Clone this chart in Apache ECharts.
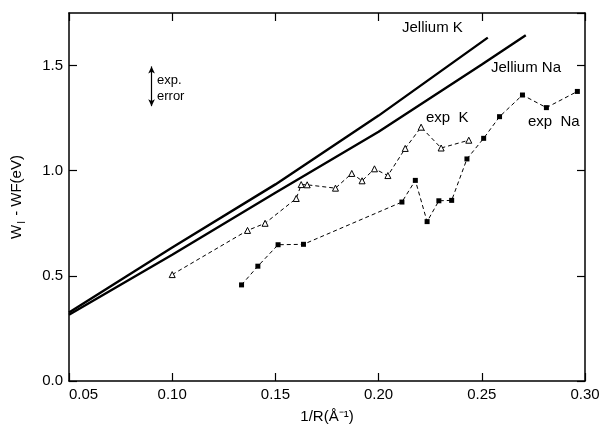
<!DOCTYPE html>
<html>
<head>
<meta charset="utf-8">
<script src="https://cdn.jsdelivr.net/npm/echarts@6/dist/echarts.min.js"></script>
<style>
html,body{margin:0;padding:0;background:#fff;}
#chart{width:606px;height:429px;}
</style>
</head>
<body>
<div id="chart"></div>
<script>
// ---- data ----
const jelliumKX = [0.05, 0.10, 0.15, 0.20, 0.2529];
const jelliumKY = [0.326, 0.635, 0.935, 1.262, 1.633];
const jelliumNaX = [0.05, 0.10, 0.15, 0.20, 0.25, 0.2713];
const jelliumNaY = [0.315, 0.600, 0.895, 1.185, 1.505, 1.644];
const expKX = [0.1000, 0.1365, 0.1450, 0.1601, 0.1625, 0.1654, 0.1791, 0.1870, 0.1920, 0.1980, 0.2045, 0.2129, 0.2206, 0.2303, 0.2437];
const expKY = [0.506, 0.716, 0.750, 0.868, 0.934, 0.933, 0.917, 0.987, 0.952, 1.009, 0.977, 1.106, 1.207, 1.108, 1.145];
const expNaX = [0.1336, 0.1415, 0.1513, 0.1636, 0.2113, 0.2178, 0.2235, 0.2292, 0.2354, 0.2428, 0.2509, 0.2586, 0.2697, 0.2813, 0.2963];
const expNaY = [0.457, 0.546, 0.648, 0.650, 0.851, 0.954, 0.758, 0.857, 0.859, 1.056, 1.154, 1.257, 1.360, 1.300, 1.377];
const errorBarX = 0.090;
const errorBarY = [1.307, 1.496];
const xTicks = {min: 0.05, max: 0.30, interval: 0.05};
const yTicks = {min: 0.0, max: 1.75, interval: 0.5};

const pairs = (xs, ys) => xs.map((x, i) => [x, ys[i]]);
const FONT = 'Liberation Sans';

const chart = echarts.init(document.getElementById('chart'), null, {renderer: 'canvas'});

const axisCommon = {
  type: 'value',
  axisLine: {show: true, onZero: false, lineStyle: {color: '#000', width: 1.5}},
  axisTick: {show: true, inside: true, length: 8, lineStyle: {color: '#000', width: 1.2}},
  splitLine: {show: false}
};

const option = {
  animation: false,
  backgroundColor: '#fff',
  grid: {left: 69, right: 21, top: 13, bottom: 44, containLabel: false},
  xAxis: [
    Object.assign({}, axisCommon, {
      position: 'bottom', min: xTicks.min, max: xTicks.max, interval: xTicks.interval,
      axisLabel: {show: true, color: '#000', fontFamily: FONT, fontSize: 15, margin: 6,
        alignMinLabel: 'left',
        formatter: v => v.toFixed(2)},
      name: '1/R(Å⁻¹)', nameLocation: 'middle', nameGap: 28,
      nameTextStyle: {color: '#000', fontFamily: FONT, fontSize: 15}
    }),
    Object.assign({}, axisCommon, {
      position: 'top', min: xTicks.min, max: xTicks.max, interval: xTicks.interval,
      axisLabel: {show: false}
    })
  ],
  yAxis: [
    Object.assign({}, axisCommon, {
      position: 'left', min: yTicks.min, max: yTicks.max, interval: yTicks.interval,
      axisLabel: {show: true, color: '#000', fontFamily: FONT, fontSize: 15, margin: 6,
        showMaxLabel: false,
        formatter: v => v.toFixed(1)},
      name: '{a|W}{s|I}{a| - WF(eV)}', nameLocation: 'middle', nameGap: 42, nameRotate: 90,
      nameTextStyle: {color: '#000', fontFamily: FONT, fontSize: 15,
        rich: {a: {fontFamily: FONT, fontSize: 15, color: '#000', verticalAlign: 'middle'},
               s: {fontFamily: FONT, fontSize: 10, color: '#000', verticalAlign: 'middle', padding: [10, 1, 0, 1]}}}
    }),
    Object.assign({}, axisCommon, {
      position: 'right', min: yTicks.min, max: yTicks.max, interval: yTicks.interval,
      axisLabel: {show: false}
    })
  ],
  series: [
    {
      name: 'Jellium K', type: 'line', xAxisIndex: 0, yAxisIndex: 0,
      data: pairs(jelliumKX, jelliumKY), showSymbol: false,
      lineStyle: {color: '#000', width: 2.4}
    },
    {
      name: 'Jellium Na', type: 'line', xAxisIndex: 0, yAxisIndex: 0,
      data: pairs(jelliumNaX, jelliumNaY), showSymbol: false,
      lineStyle: {color: '#000', width: 2.4}
    },
    {
      name: 'exp K', type: 'line', xAxisIndex: 0, yAxisIndex: 0,
      data: pairs(expKX, expKY), symbol: 'triangle', symbolSize: 6, showSymbol: true,
      itemStyle: {color: '#fff', borderColor: '#000', borderWidth: 1},
      lineStyle: {color: '#000', width: 1, type: [4, 3]}
    },
    {
      name: 'exp Na', type: 'line', xAxisIndex: 0, yAxisIndex: 0,
      data: pairs(expNaX, expNaY), symbol: 'rect', symbolSize: 5, showSymbol: true,
      itemStyle: {color: '#000'},
      lineStyle: {color: '#000', width: 1, type: [4, 3]}
    },
    {
      name: 'exp error', type: 'line', xAxisIndex: 0, yAxisIndex: 0,
      data: [], silent: true,
      markLine: {
        silent: true, symbol: ['arrow', 'arrow'], symbolSize: [5, 7],
        label: {show: false},
        lineStyle: {color: '#000', width: 1.2, type: 'solid'},
        data: [[{coord: [errorBarX, errorBarY[0]]}, {coord: [errorBarX, errorBarY[1]]}]]
      }
    }
  ],
  graphic: [
    {type: 'text', left: 402, top: 20, style: {text: 'Jellium K', font: '15px "Liberation Sans"', fill: '#000'}},
    {type: 'text', left: 491, top: 60, style: {text: 'Jellium Na', font: '15px "Liberation Sans"', fill: '#000'}},
    {type: 'text', left: 426, top: 110, style: {text: 'exp  K', font: '15px "Liberation Sans"', fill: '#000'}},
    {type: 'text', left: 528, top: 114, style: {text: 'exp  Na', font: '15px "Liberation Sans"', fill: '#000'}},
    {type: 'text', left: 157, top: 74, style: {text: 'exp.', font: '13px "Liberation Sans"', fill: '#000'}},
    {type: 'text', left: 157, top: 90, style: {text: 'error', font: '13px "Liberation Sans"', fill: '#000'}}
  ]
};
chart.setOption(option);
</script>
</body>
</html>
